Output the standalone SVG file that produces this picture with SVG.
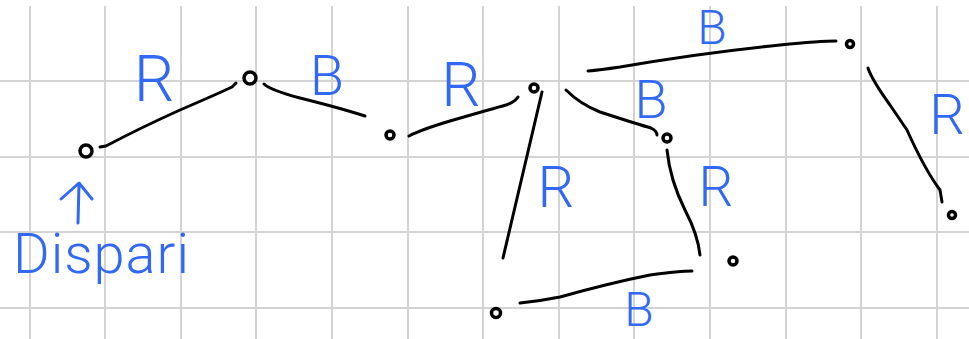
<svg xmlns="http://www.w3.org/2000/svg" width="969" height="339" viewBox="0 0 969 339">
<style>
.grid line{stroke:#d3d3d3;stroke-width:2}
.edge{fill:none;stroke:#000;stroke-width:3;stroke-linecap:round;stroke-linejoin:round}
.node circle{fill:#fff;stroke:#000;stroke-width:3.5}
.lbl{fill:#3168f6;font-family:Roboto,"Liberation Sans",sans-serif;font-weight:300;text-anchor:middle}
.arrow{fill:none;stroke:#3168f6;stroke-width:3;stroke-linecap:round;stroke-linejoin:round}
</style>
<rect width="969" height="339" fill="#fff"/>
<g class="grid">
<line x1="30" y1="6" x2="30" y2="339"/><line x1="105" y1="6" x2="105" y2="339"/><line x1="181" y1="6" x2="181" y2="339"/><line x1="256" y1="6" x2="256" y2="339"/><line x1="332" y1="6" x2="332" y2="339"/><line x1="408" y1="6" x2="408" y2="339"/><line x1="483" y1="6" x2="483" y2="339"/><line x1="559" y1="6" x2="559" y2="339"/><line x1="634" y1="6" x2="634" y2="339"/><line x1="710" y1="6" x2="710" y2="339"/><line x1="786" y1="6" x2="786" y2="339"/><line x1="861" y1="6" x2="861" y2="339"/><line x1="937" y1="6" x2="937" y2="339"/>
<line x1="0" y1="81" x2="969" y2="81"/><line x1="0" y1="157" x2="969" y2="157"/><line x1="0" y1="232" x2="969" y2="232"/><line x1="0" y1="308" x2="969" y2="308"/>
</g>
<g id="edges">
<path class="edge" d="M100 147 L106 146 Q140 128 180 110 Q215 95 232 87 L236 83"/>
<path class="edge" d="M264 84 Q270 90 300 98 Q340 108 365 116"/>
<path class="edge" d="M409 136 Q420 130 450 121 Q495 108 506 105 Q515 102 518 97"/>
<path class="edge" d="M542 92 L503 258"/>
<path class="edge" d="M566 90 Q580 104 600 112 Q640 125 651 128 Q657 131 657 135"/>
<path class="edge" d="M588 71 Q600 70 620 67 Q700 53 780 45 Q820 41 836 41"/>
<path class="edge" d="M667 150 Q670 180 685 210 Q698 235 700 255"/>
<path class="edge" d="M520 303 Q540 301 560 297 Q610 283 650 275 Q680 271 692 271"/>
<path class="edge" d="M868 68 Q872 80 890 105 L907 130 Q925 170 940 190 L942 202"/>
</g>
<g id="n1" class="node"><circle cx="86" cy="151" r="6" stroke-width="4.5"/></g>
<g id="n2" class="node"><circle cx="250" cy="78" r="6" stroke-width="4.5"/></g>
<g id="n3" class="node"><circle cx="390" cy="135" r="4"/></g>
<g id="n4" class="node"><circle cx="534" cy="88" r="4"/></g>
<g id="n5" class="node"><circle cx="667" cy="138" r="4"/></g>
<g id="n6" class="node"><circle cx="850" cy="44" r="3.5"/></g>
<g id="n7" class="node"><circle cx="952" cy="215" r="3.5" fill="#000"/></g>
<g id="n8" class="node"><circle cx="496" cy="313" r="4.5"/></g>
<g id="n9" class="node"><circle cx="733" cy="261" r="4"/></g>
<g id="labels">
<text class="lbl" x="154" y="101" font-size="64">R</text>
<text class="lbl" x="327" y="95" font-size="56">B</text>
<text class="lbl" x="461" y="106" font-size="62">R</text>
<text class="lbl" x="651" y="118" font-size="54">B</text>
<text class="lbl" x="556" y="207" font-size="58">R</text>
<text class="lbl" x="639" y="326" font-size="48">B</text>
<text class="lbl" x="712" y="44" font-size="48">B</text>
<text class="lbl" x="947" y="134" font-size="56">R</text>
<text class="lbl" x="716" y="206" font-size="55">R</text>
<text class="lbl" x="101" y="273" font-size="56" textLength="176" lengthAdjust="spacing">Dispari</text>
<path class="arrow" d="M78 223 L79 184 M61 199 L79 183 L92 199"/>
</g>
</svg>
